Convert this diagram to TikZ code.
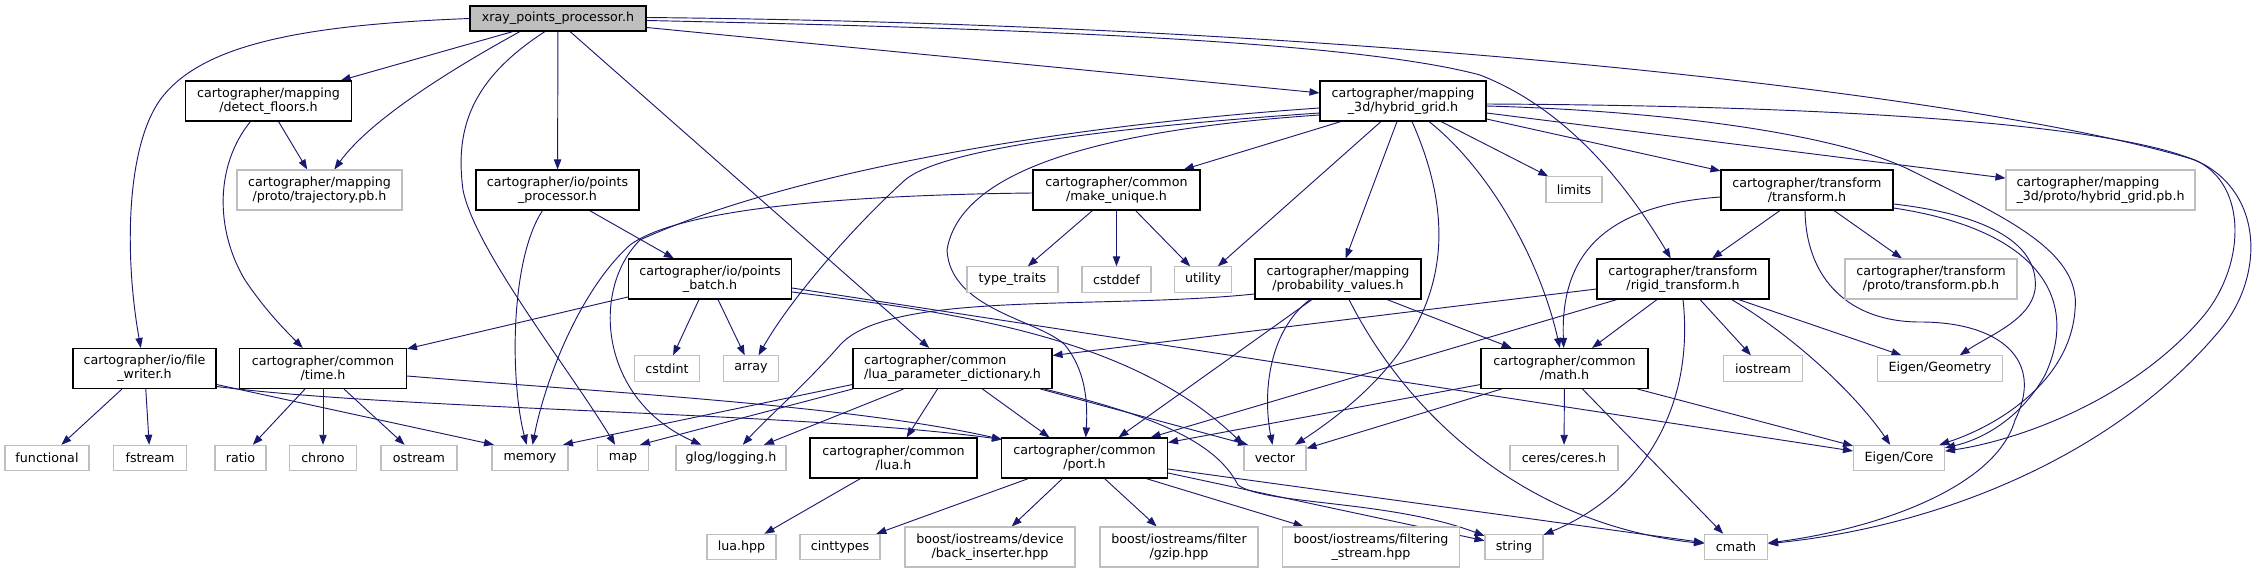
\documentclass[tikz,border=0pt]{standalone}
\usepackage{fontspec}
\setmainfont{DejaVu Sans}
\usetikzlibrary{arrows.meta,calc}
\pgfdeclarelayer{edgelayer}
\pgfsetlayers{edgelayer,main}
\definecolor{edgec}{RGB}{25,25,112}
\definecolor{sysgray}{RGB}{191,191,191}
\begin{document}
\begin{tikzpicture}[x=0.75pt,y=-0.75pt,
  hdr/.style={draw=black, fill=white, line width=0.8pt, inner sep=0pt, minimum height=30pt, align=center, font=\fontsize{9.5}{10.5}\selectfont},
  sys/.style={draw=sysgray, fill=white, line width=0.8pt, inner sep=0pt, minimum height=19pt, font=\fontsize{9.5}{10.5}\selectfont},
  sys2/.style={sys, minimum height=30pt, align=center},
  dep/.style={draw=edgec, line width=0.7pt, -{Triangle[length=7.5pt,width=5.5pt]}}]
\useasboundingbox (0,0) rectangle (2252,573);
% nodes
\node[hdr, fill=sysgray, minimum width=132pt, minimum height=18.75pt] (root) at (558,18.5) {xray\_points\_processor.h};
\node[hdr, minimum width=124.5pt] (df) at (268.5,101) {cartographer/mapping\\/detect\_floors.h};
\node[sys2, minimum width=123.75pt] (traj) at (319.5,190) {cartographer/mapping\\/proto/trajectory.pb.h};
\node[hdr, minimum width=122.25pt] (pp) at (557.5,190) {cartographer/io/points\\\_processor.h};
\node[hdr, minimum width=122.25pt] (pb) at (710,279) {cartographer/io/points\\\_batch.h};
\node[hdr, minimum width=125.25pt] (mu) at (1116.5,190) {cartographer/common\\/make\_unique.h};
\node[sys, minimum width=68.25pt] (tt) at (1012.5,279.5) {type\_traits};
\node[sys, minimum width=51.75pt] (cstddef) at (1116.5,279.5) {cstddef};
\node[sys, minimum width=42.75pt] (util) at (1203,279.5) {utility};
\node[hdr, minimum width=124.5pt] (hg) at (1403,101) {cartographer/mapping\\\_3d/hybrid\_grid.h};
\node[sys, minimum width=42pt] (limits) at (1574,189.5) {limits};
\node[hdr, minimum width=124.5pt] (pv) at (1338,279) {cartographer/mapping\\/probability\_values.h};
\node[hdr, minimum width=129pt] (rt) at (1683,279) {cartographer/transform\\/rigid\_transform.h};
\node[hdr, minimum width=129pt] (tr) at (1807,190) {cartographer/transform\\/transform.h};
\node[sys2, minimum width=141.75pt, align=left] (hgpb) at (2100.5,190) {cartographer/mapping\\\_3d/proto/hybrid\_grid.pb.h};
\node[sys2, minimum width=129pt] (trpb) at (1931,279) {cartographer/transform\\/proto/transform.pb.h};
\node[hdr, minimum width=107.25pt] (fw) at (144.5,368.5) {cartographer/io/file\\\_writer.h};
\node[hdr, minimum width=125.25pt] (time) at (323,368.5) {cartographer/common\\/time.h};
\node[sys, minimum width=63pt] (functional) at (47,458) {functional};
\node[sys, minimum width=54.75pt] (fstream) at (150,458) {fstream};
\node[sys, minimum width=38.25pt] (ratio) at (240.5,458) {ratio};
\node[sys, minimum width=50.25pt] (chrono) at (323,458) {chrono};
\node[sys, minimum width=57pt] (ostream) at (419,458) {ostream};
\node[sys, minimum width=57pt] (memory) at (530,458) {memory};
\node[sys, minimum width=38.25pt] (map) at (623,458) {map};
\node[sys, minimum width=82.5pt] (glog) at (731,458) {glog/logging.h};
\node[sys, minimum width=48.75pt] (cstdint) at (667,368.5) {cstdint};
\node[sys, minimum width=41.25pt] (array) at (751,368.5) {array};
\node[hdr, minimum width=149.25pt, align=left] (lua) at (952.5,368.5) {cartographer/common\\/lua\_parameter\_dictionary.h};
\node[hdr, minimum width=125.25pt] (luah) at (893.5,458) {cartographer/common\\/lua.h};
\node[hdr, minimum width=124.5pt] (port) at (1084.5,458) {cartographer/common\\/port.h};
\node[sys, minimum width=51.75pt] (luahpp) at (741.5,547) {lua.hpp};
\node[sys, minimum width=60pt] (cinttypes) at (840,547) {cinttypes};
\node[sys2, minimum width=127.5pt] (backins) at (990,547) {boost/iostreams/device\\/back\_inserter.hpp};
\node[sys2, minimum width=118.5pt] (gzip) at (1179,547) {boost/iostreams/filter\\/gzip.hpp};
\node[sys2, minimum width=132.75pt] (filtering) at (1371,547) {boost/iostreams/filtering\\\_stream.hpp};
\node[sys, minimum width=43.5pt] (string) at (1514,547) {string};
\node[sys, minimum width=46.5pt] (vector) at (1275,458) {vector};
\node[hdr, minimum width=125.25pt] (math) at (1564.5,368.5) {cartographer/common\\/math.h};
\node[sys, minimum width=81pt] (ceres) at (1564,458) {ceres/ceres.h};
\node[sys, minimum width=59.25pt] (iostream) at (1763,368.5) {iostream};
\node[sys, minimum width=93.75pt] (egeo) at (1940,368.5) {Eigen/Geometry};
\node[sys, minimum width=68.25pt] (ecore) at (1899,458) {Eigen/Core};
\node[sys, minimum width=47.25pt] (cmath) at (1736,547) {cmath};
\begin{pgfonlayer}{edgelayer}
% root
\draw[dep] (root.west) .. controls (300,25) and (200,45) .. (160,100) .. controls (125,150) and (125,260) .. (fw);
\draw[dep] ($(root.south)+(-45,0)$) -- (df);
\draw[dep] ($(root.south)+(-38,0)$) .. controls (450,70) and (370,120) .. (traj);
\draw[dep] ($(root.south)+(-13,0)$) .. controls (470,80) and (455,130) .. (463,190) .. controls (475,250) and (570,370) .. (map);
\draw[dep] (root) -- (pp);
\draw[dep] ($(root.south)+(12,0)$) -- (lua);
\draw[dep] ($(root.east)+(0,9)$) -- (hg);
\draw[dep] ($(root.east)+(0,2)$) .. controls (1000,28) and (1350,40) .. (1480,75) .. controls (1570,110) and (1630,190) .. (rt);
\draw[dep] ($(root.east)+(0,-1)$) .. controls (1400,25) and (2000,100) .. (2195,160) .. controls (2250,185) and (2245,270) .. (2200,320) .. controls (2130,400) and (2020,440) .. (ecore);
% hybrid grid
\draw[dep] ($(hg.south)+(-62,0)$) -- (mu);
\draw[dep] ($(hg.south)+(-22,0)$) -- (util);
\draw[dep] ($(hg.south)+(-6,0)$) -- (pv);
\draw[dep] ($(hg.south)+(9,0)$) .. controls (1460,230) and (1455,340) .. (vector);
\draw[dep] ($(hg.south)+(26,0)$) .. controls (1490,170) and (1540,260) .. (math);
\draw[dep] ($(hg.south)+(38,0)$) -- (limits);
\draw[dep] ($(hg.east)+(0,18)$) -- (tr);
\draw[dep] ($(hg.east)+(0,12)$) -- (hgpb);
\draw[dep] ($(hg.east)+(0,5)$) .. controls (1700,112) and (1850,140) .. (1910,170) .. controls (2000,215) and (2082,250) .. (2075,310) .. controls (2070,380) and (2000,425) .. (ecore);
\draw[dep] ($(hg.east)+(0,3)$) .. controls (1900,106) and (2140,130) .. (2205,165) .. controls (2265,200) and (2262,280) .. (2220,330) .. controls (2120,450) and (1950,525) .. (cmath);
\draw[dep] ($(hg.west)+(0,14)$) .. controls (1100,130) and (960,170) .. (947,250) .. controls (950,310) and (1040,320) .. (1065,345) .. controls (1085,370) and (1088,400) .. (port);
\draw[dep] ($(hg.west)+(0,12)$) .. controls (1100,128) and (940,150) .. (905,180) .. controls (850,230) and (790,300) .. (array);
\draw[dep] ($(hg.west)+(0,7)$) .. controls (1000,130) and (760,185) .. (640,240) .. controls (590,290) and (600,400) .. (glog);
% make_unique
\draw[dep] ($(mu.south)+(-24,0)$) -- (tt);
\draw[dep] (mu) -- (cstddef);
\draw[dep] ($(mu.south)+(19,0)$) -- (util);
\draw[dep] ($(mu.west)+(0,3)$) .. controls (850,195) and (680,208) .. (630,245) .. controls (580,290) and (545,380) .. (memory);
% probability values
\draw[dep] ($(pv.west)+(0,15)$) .. controls (1100,310) and (890,290) .. (840,345) .. controls (805,385) and (765,420) .. (glog);
\draw[dep] ($(pv.south)+(-28,0)$) .. controls (1270,330) and (1262,390) .. (vector);
\draw[dep] ($(pv.south)+(-26,0)$) -- ($(port.north)+(34,0)$);
\draw[dep] ($(pv.south)+(49,0)$) -- (math);
\draw[dep] ($(pv.south)+(11,0)$) .. controls (1410,420) and (1530,525) .. (cmath);
% lua parameter dictionary
\draw[dep] ($(lua.west)+(0,16)$) -- ($(memory.north)+(33,0)$);
\draw[dep] (lua.south west) -- ($(map.north)+(17,0)$);
\draw[dep] ($(lua.south)+(-49,0)$) -- (glog);
\draw[dep] ($(lua.south)+(-15,0)$) -- (luah);
\draw[dep] ($(lua.south)+(30,0)$) -- ($(port.north)+(-35,0)$);
\draw[dep] ($(lua.south east)+(-12,0)$) -- ($(vector.north)+(-27,0)$);
\draw[dep] ($(lua.south east)+(-8,0)$) .. controls (1150,415) and (1215,440) .. (1238,485) .. controls (1265,505) and (1390,500) .. (string);
\draw[dep] ($(luah.south)+(-33,0)$) -- (luahpp);
% time
\draw[dep] ($(time.south)+(-18,0)$) -- (ratio);
\draw[dep] (time) -- (chrono);
\draw[dep] ($(time.south)+(21,0)$) -- (ostream);
\draw[dep] ($(time.east)+(0,7.5)$) .. controls (600,392) and (850,405) .. ($(port.north west)+(1,2)$);
% file writer
\draw[dep] ($(fw.south)+(-22.5,0)$) -- (functional);
\draw[dep] (fw) -- (fstream);
\draw[dep] ($(fw.east)+(0,16)$) -- ($(memory.north)+(-36,0)$);
\draw[dep] ($(fw.east)+(0,18)$) .. controls (400,410) and (800,412) .. ($(port.north west)+(1,2)$);
% detect floors
\draw[dep] ($(df.south)+(10,0)$) -- (traj);
\draw[dep] ($(df.south)+(-18,0)$) .. controls (215,165) and (215,230) .. (245,280) .. controls (265,310) and (285,330) .. (time);
% points processor
\draw[dep] ($(pp.south)+(32,0)$) -- (pb);
\draw[dep] ($(pp.south)+(-15,0)$) .. controls (510,260) and (510,380) .. (memory);
% points batch
\draw[dep] ($(pb.west)+(0,18)$) -- (time);
\draw[dep] ($(pb.south)+(-11,0)$) -- (cstdint);
\draw[dep] ($(pb.south)+(8,0)$) -- (array);
\draw[dep] ($(pb.east)+(0,13)$) .. controls (950,312) and (1130,335) .. (vector.north west);
\draw[dep] ($(pb.east)+(0,9)$) -- (ecore);
% rigid transform
\draw[dep] ($(rt.west)+(0,10)$) -- ($(lua.east)+(0,-13)$);
\draw[dep] ($(rt.south)+(-26,0)$) -- (math);
\draw[dep] ($(rt.south)+(-66,0)$) -- ($(port.north)+(66,0)$);
\draw[dep] (rt.south) .. controls (1695,410) and (1640,495) .. (string);
\draw[dep] ($(rt.south)+(17,0)$) -- (iostream);
\draw[dep] ($(rt.south east)+(-31,0)$) -- (egeo);
\draw[dep] ($(rt.south east)+(-38,0)$) .. controls (1800,340) and (1860,400) .. (ecore);
% math
\draw[dep] ($(math.south west)+(21,0)$) -- (vector);
\draw[dep] ($(math.west)+(0,16)$) -- (port);
\draw[dep] (math) -- (ceres);
\draw[dep] ($(math.south)+(18,0)$) -- (cmath);
\draw[dep] ($(math.south east)+(-11,0)$) -- (ecore);
% transform
\draw[dep] ($(tr.south)+(-27,0)$) -- (rt);
\draw[dep] ($(tr.west)+(0,7)$) .. controls (1610,205) and (1560,250) .. (math);
\draw[dep] ($(tr.south)+(27,0)$) -- (trpb);
\draw[dep] ($(tr.east)+(0,14)$) .. controls (1990,215) and (2040,245) .. (2035,290) .. controls (2030,320) and (1990,335) .. (egeo);
\draw[dep] ($(tr.east)+(0,18)$) .. controls (2040,230) and (2080,300) .. (2045,375) .. controls (2020,420) and (1980,440) .. (ecore);
\draw[dep] ($(tr.south)+(-2,0)$) .. controls (1806,280) and (1850,322) .. (1920,322) .. controls (2000,322) and (2045,360) .. (2015,420) .. controls (1995,490) and (1870,530) .. (cmath);
% port
\draw[dep] ($(port.south)+(-56,0)$) -- (cinttypes);
\draw[dep] ($(port.south)+(-22,0)$) -- (backins);
\draw[dep] ($(port.south)+(20,0)$) -- (gzip);
\draw[dep] ($(port.south east)+(-22,0)$) -- (filtering);
\draw[dep] ($(port.east)+(0,15)$) -- (string);
\draw[dep] ($(port.east)+(0,11)$) -- (cmath);
\end{pgfonlayer}
\end{tikzpicture}
\end{document}
